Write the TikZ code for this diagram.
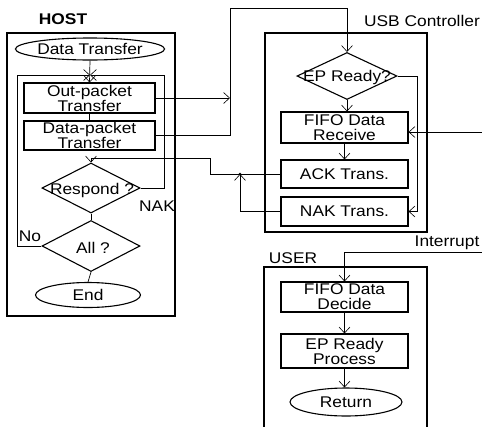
\documentclass[tikz,border=0pt]{standalone}
\usepackage{fontspec}
\setmainfont{Liberation Sans}[FakeStretch=1.12]
\usetikzlibrary{shapes.geometric,arrows.meta}
\begin{document}
\begin{tikzpicture}[x=1pt,y=-1pt,
  txt/.style={font=\fontsize{15.5}{15}\selectfont, align=center, inner sep=0pt},
  frame/.style={draw, line width=1.1pt},
  box/.style={draw, line width=1.1pt, rectangle, minimum width=127pt, inner sep=0pt, font=\fontsize{15.5}{15}\selectfont, align=center},
  oval/.style={draw, line width=1.1pt, ellipse, inner sep=0pt, font=\fontsize{15.5}{15}\selectfont},
  dia/.style={draw, line width=1.1pt, diamond, inner sep=0pt},
  conn/.style={draw, line width=0.7pt},
  arr/.style={conn, -{Straight Barb[length=6pt,width=11pt,line width=0.6pt]}}
]
\useasboundingbox (0,0) rectangle (482,426);

% ---------- HOST ----------
\node[txt, font=\fontsize{15.5}{15}\selectfont\bfseries] (hostlbl) at (63,19) {HOST};
\draw[frame] (7,33) rectangle (175,316);
\node[oval, minimum width=141pt, minimum height=22pt] (dt) at (90,49) {Data Transfer};
\node[box, minimum width=131pt, minimum height=30pt] (op) at (89.5,98) {Out-packet\\Transfer};
\node[box, minimum width=131pt, minimum height=29pt] (dp) at (89.5,135.5) {Data-packet\\Transfer};
\node[dia, minimum width=98pt, minimum height=50pt] (resp) at (91,188) {};
\node[txt] (resptxt) at (92,190) {Respond ?};
\node[dia, minimum width=98pt, minimum height=51pt] (all) at (91,246) {};
\node[txt] (alltxt) at (93,248) {All ?};
\node[oval, minimum width=105pt, minimum height=25pt] (end) at (88,295) {End};
\node[txt] (nolbl) at (30,236) {No};
\node[txt] (naklbl) at (157,206) {NAK};
\coordinate (looptop) at (90,75);

\draw[arr] (dt.south) -- (op.north);
\draw[conn] (op.south) -- (dp.north);
\draw[conn] (resp.south) -- (all.north);
\draw[conn] (all.south) -- (end.north);
\draw[arr] (resp.east) -- (164,188) |- (looptop);
\draw[arr] (all.west) -- (17,246) |- (looptop);

% ---------- USB Controller ----------
\node[txt] (usblbl) at (422,21) {USB Controller};
\draw[frame] (265,33) rectangle (427,232);
\node[dia, minimum width=100pt, minimum height=47pt] (epr) at (347,76) {};
\node[txt] (eprtxt) at (347,77) {EP Ready?};
\node[box, minimum height=31pt] (fifo) at (344.5,127.5) {FIFO Data\\Receive};
\node[box, minimum height=28pt] (ack) at (344.5,174) {ACK Trans.};
\node[box, minimum height=29pt] (nak) at (344.5,211.5) {NAK Trans.};

\draw[arr] (epr.south) -- (epr.south |- fifo.north);
\draw[arr] (fifo.south) -- (fifo.south |- ack.north);
\draw[arr] (epr.east) -- (417,76) |- (nak.east);
\coordinate (extin) at (482,132);
\draw[arr] (extin) -- (extin -| fifo.east);

% host -> usb
\coordinate (joinA) at (230,98);
\draw[arr] (op.east |- joinA) -- (joinA);
\draw[arr] (dp.east) -- (230,135.5) -- (230,8) -| (epr.north);

% usb -> host
\coordinate (joinB) at (240,174);
\draw[arr] (nak.west) -| (joinB);
\fill (joinB) circle (1.3pt);
\draw[arr] (ack.west) -- (210,174) -- (210,158) -| (resp.north);

% ---------- USER ----------
\node[txt] (intlbl) at (447,243) {Interrupt};
\node[txt] (userlbl) at (293,258) {USER};
\draw[frame] (427,428) -- (427,267) -- (264,267) -- (264,428);
\node[box, minimum height=30pt] (fdd) at (344.5,297) {FIFO Data\\Decide};
\node[box, minimum height=34pt] (eprp) at (344.5,351) {EP Ready\\Process};
\node[oval, minimum width=112pt, minimum height=28pt] (ret) at (346,402) {Return};

\coordinate (intin) at (482,252);
\draw[arr] (intin) -| (fdd.north);
\draw[arr] (fdd.south) -- (fdd.south |- eprp.north);
\draw[arr] (eprp.south) -- (eprp.south |- ret.north);
\end{tikzpicture}
\end{document}
